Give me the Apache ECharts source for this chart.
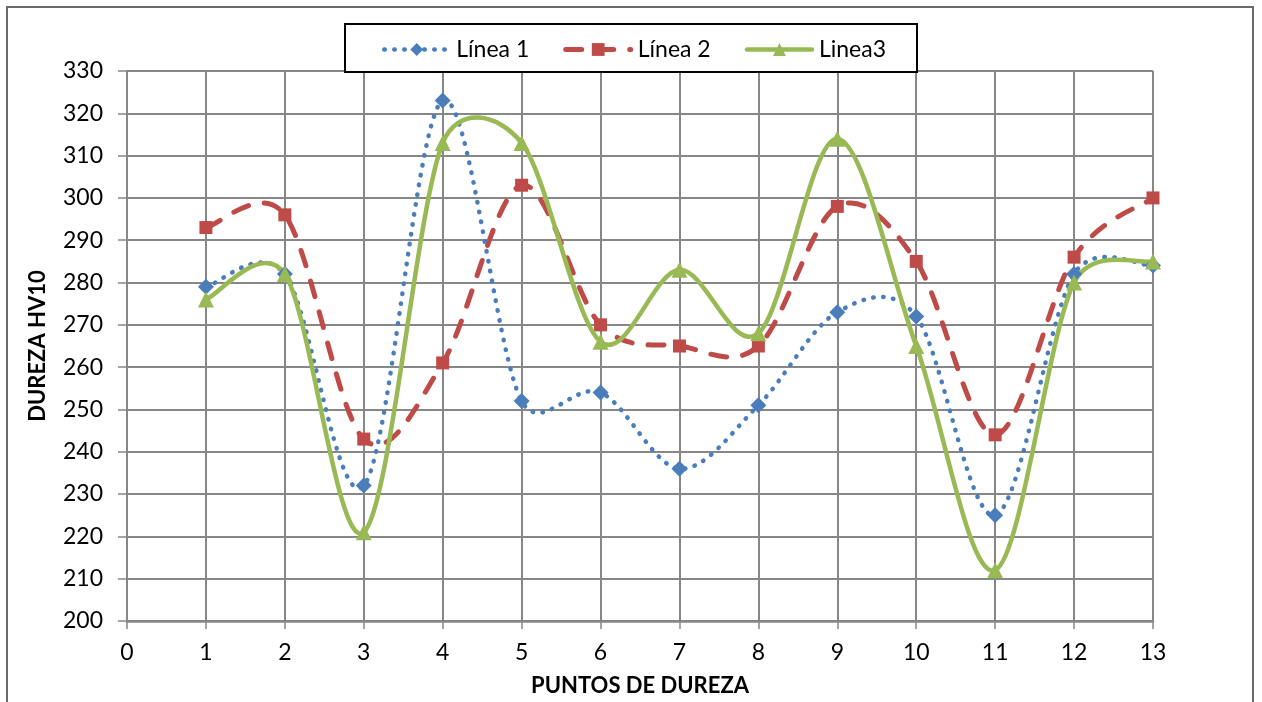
<!DOCTYPE html>
<html>
<head>
<meta charset="utf-8">
<script src="https://cdn.jsdelivr.net/npm/echarts@6/dist/echarts.min.js"></script>
<style>
  html, body { margin: 0; padding: 0; background: #fff; }
  #chart { width: 1262px; height: 702px; }
</style>
</head>
<body>
<div id="chart"></div>
<script>
// Puntos de medición (eje X)
const puntos = [1, 2, 3, 4, 5, 6, 7, 8, 9, 10, 11, 12, 13];

// Dureza Vickers HV10 por línea
const linea1 = [279, 282, 232, 323, 252, 254, 236, 251, 273, 272, 225, 282, 284];
const linea2 = [293, 296, 243, 261, 303, 270, 265, 265, 298, 285, 244, 286, 300];
const linea3 = [276, 282, 221, 313, 313, 266, 283, 268, 314, 265, 212, 280, 285];

const nombres = ['Línea 1', 'Línea 2', 'Linea3'];

const pares = vals => puntos.map((p, i) => [p, vals[i]]);

const FONT = 'Lato, "Open Sans", sans-serif';
const GRID_COLOR = '#878787';

const AZUL = '#4A7EBB';
const ROJO = '#BE4B48';
const VERDE = '#98B954';

const estilos = [
  { color: AZUL, width: 4.5, type: [0.5, 9.5], cap: 'round' },
  { color: ROJO, width: 5, type: [16, 16], cap: 'round' },
  { color: VERDE, width: 4.5, type: 'solid', cap: 'round' }
];

const dist = (u, v) => Math.hypot(u[0] - v[0], u[1] - v[1]);

// Smooth curve through every point of the series: cubic Bézier whose
// control arms follow the neighbouring points (1/6 of the chord), capped
// at half of the segment length. Computed in pixel space.
function curva(idx) {
  const ls = estilos[idx];
  return {
    type: 'custom',
    name: nombres[idx] + ' curva',
    data: pares([linea1, linea2, linea3][idx]),
    z: [3, 2, 4][idx],
    silent: true,
    renderItem(params, api) {
      if (params.dataIndexInside !== 0) return null;
      const n = params.dataInsideLength;
      const p = [];
      for (let j = 0; j < n; j++) {
        p.push(api.coord([api.value(0, j), api.value(1, j)]));
      }
      const at = k => p[Math.max(0, Math.min(n - 1, k))];
      let d = 'M' + p[0][0] + ' ' + p[0][1];
      for (let i = 0; i < n - 1; i++) {
        const a = at(i - 1), b = at(i), c = at(i + 1), e = at(i + 2);
        const seg = dist(b, c);
        const dac = dist(a, c), dbe = dist(b, e);
        const f1 = dac > 0 ? Math.min(1 / 6, seg / 2 / dac) : 0;
        const f2 = dbe > 0 ? Math.min(1 / 6, seg / 2 / dbe) : 0;
        const c1x = b[0] + (c[0] - a[0]) * f1, c1y = b[1] + (c[1] - a[1]) * f1;
        const c2x = c[0] - (e[0] - b[0]) * f2, c2y = c[1] - (e[1] - b[1]) * f2;
        d += ' C' + c1x + ' ' + c1y + ' ' + c2x + ' ' + c2y + ' ' + c[0] + ' ' + c[1];
      }
      return {
        type: 'path',
        shape: { pathData: d },
        style: {
          fill: 'none',
          stroke: ls.color,
          lineWidth: ls.width,
          lineDash: ls.type === 'solid' ? null : ls.type,
          lineCap: ls.cap,
          lineJoin: 'round'
        }
      };
    }
  };
}

function puntosSerie(idx, symbol, size) {
  return {
    name: nombres[idx],
    type: 'line',
    data: pares([linea1, linea2, linea3][idx]),
    symbol: symbol,
    symbolSize: size,
    itemStyle: { color: estilos[idx].color },
    lineStyle: { color: estilos[idx].color, width: estilos[idx].width, type: estilos[idx].type, cap: 'round', opacity: 0 },
    z: [3, 2, 4][idx] + 1
  };
}

const chart = echarts.init(document.getElementById('chart'));

chart.setOption({
  animation: false,
  backgroundColor: '#fff',
  grid: { left: 127, right: 109, top: 71, bottom: 80 },
  graphic: [
    {
      type: 'rect',
      shape: { x: 7, y: 7, width: 1246, height: 720 },
      style: { fill: 'none', stroke: '#6a6a6a', lineWidth: 2 },
      silent: true
    },
    {
      type: 'rect',
      shape: { x: 345, y: 24, width: 572, height: 48 },
      style: { fill: '#fff', stroke: '#000', lineWidth: 2 },
      z: 5,
      silent: true
    }
  ],
  legend: {
    top: 33,
    left: 377,
    z: 10,
    itemWidth: 65,
    itemHeight: 16,
    itemGap: 34,
    textStyle: { fontFamily: FONT, fontSize: 23, color: '#000', padding: [0, 0, 0, 2] },
    data: nombres.map((nm, i) => ({
      name: nm,
      lineStyle: {
        color: estilos[i].color,
        width: estilos[i].width,
        type: estilos[i].type,
        cap: 'round',
        opacity: 1
      }
    }))
  },
  xAxis: {
    type: 'value',
    min: 0,
    max: 13,
    interval: 1,
    name: 'PUNTOS DE DUREZA',
    nameLocation: 'middle',
    nameGap: 54,
    nameTextStyle: { fontFamily: FONT, fontSize: 22, fontWeight: 'bold', color: '#000' },
    axisLine: { lineStyle: { color: GRID_COLOR, width: 2.5 } },
    axisTick: { show: true, length: 8, lineStyle: { color: GRID_COLOR, width: 1.5 } },
    axisLabel: { fontFamily: FONT, fontSize: 23, color: '#000', margin: 20 },
    splitLine: { show: true, lineStyle: { color: GRID_COLOR, width: 2 } }
  },
  yAxis: {
    type: 'value',
    min: 200,
    max: 330,
    interval: 10,
    name: 'DUREZA HV10',
    nameLocation: 'middle',
    nameGap: 78,
    nameRotate: 90,
    nameTextStyle: { fontFamily: FONT, fontSize: 22, fontWeight: 'bold', color: '#000' },
    axisLine: { show: true, lineStyle: { color: GRID_COLOR, width: 2 } },
    axisTick: { show: true, length: 9, lineStyle: { color: GRID_COLOR, width: 1.5 } },
    axisLabel: { fontFamily: FONT, fontSize: 23, color: '#000', margin: 24 },
    splitLine: { show: true, lineStyle: { color: GRID_COLOR, width: 2 } }
  },
  series: [
    curva(0), curva(1), curva(2),
    puntosSerie(0, 'diamond', 16),
    puntosSerie(1, 'rect', 13),
    puntosSerie(2, 'triangle', 16)
  ]
});
</script>
</body>
</html>
